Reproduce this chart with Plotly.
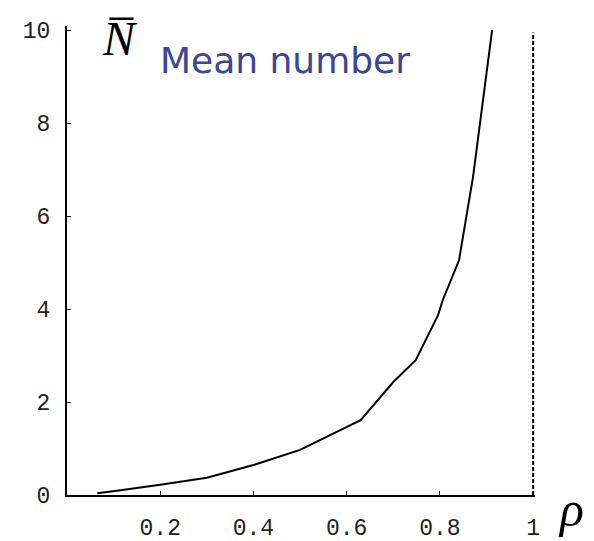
import plotly.graph_objects as go

# Mean number in the system vs. utilisation
rho = [0.065, 0.107, 0.2, 0.3, 0.4, 0.5, 0.63, 0.70, 0.748, 0.796, 0.806, 0.841, 0.871, 0.89, 0.912]
n_mean = [0.04, 0.09, 0.22, 0.37, 0.645, 0.97, 1.61, 2.43, 2.90, 3.87, 4.19, 5.05, 6.84, 8.3, 10.0]

# asymptote at rho = 1
asym_x = [1.0, 1.0]
asym_y = [0.0, 9.95]

x_ticks = [0.2, 0.4, 0.6, 0.8, 1]
x_tick_text = ["0.2", "0.4", "0.6", "0.8", "1"]
y_ticks = [0, 2, 4, 6, 8, 10]
y_tick_text = ["0", "2", "4", "6", "8", "10"]

fig = go.Figure()
fig.add_trace(go.Scatter(x=rho, y=n_mean, mode="lines",
                         line=dict(color="black", width=2)))
fig.add_trace(go.Scatter(x=asym_x, y=asym_y, mode="lines",
                         line=dict(color="black", width=2, dash="4px,2px")))

tick_font = dict(family="Liberation Mono", size=23, color="#222222")
fig.update_layout(
    width=594, height=541,
    margin=dict(l=67, r=59, t=26, b=46, autoexpand=False),
    paper_bgcolor="white", plot_bgcolor="white",
    showlegend=False,
    xaxis=dict(range=[0, 1.004], tickvals=x_ticks, ticktext=x_tick_text,
               showgrid=False, zeroline=False, showline=True, automargin=False,
               linecolor="black", linewidth=2, ticks="inside", ticklen=4,
               tickcolor="black", tickfont=tick_font, ticklabelstandoff=10),
    yaxis=dict(range=[0, 10.09], tickvals=y_ticks, ticktext=y_tick_text,
               showgrid=False, zeroline=False, showline=True, automargin=False,
               linecolor="black", linewidth=2, ticks="inside", ticklen=4,
               tickcolor="black", tickfont=tick_font, ticklabelstandoff=10),
)

fig.add_annotation(text="<i>N\u0305</i>", xref="paper", yref="paper",
                   x=0.113, y=1.035, xanchor="center", yanchor="top",
                   showarrow=False,
                   font=dict(family="Liberation Serif", size=48, color="black"))
fig.add_annotation(text="Mean number", xref="paper", yref="paper",
                   x=0.194, y=0.975, xanchor="left", yanchor="top",
                   showarrow=False,
                   font=dict(family="DejaVu Sans", size=36, color="#3d4692"))
fig.add_annotation(text="<i>\u03c1</i>", xref="paper", yref="paper",
                   x=1.077, y=-0.03, xanchor="center", yanchor="middle",
                   showarrow=False,
                   font=dict(family="Liberation Serif", size=50, color="black"))

fig.write_html("out.html")
